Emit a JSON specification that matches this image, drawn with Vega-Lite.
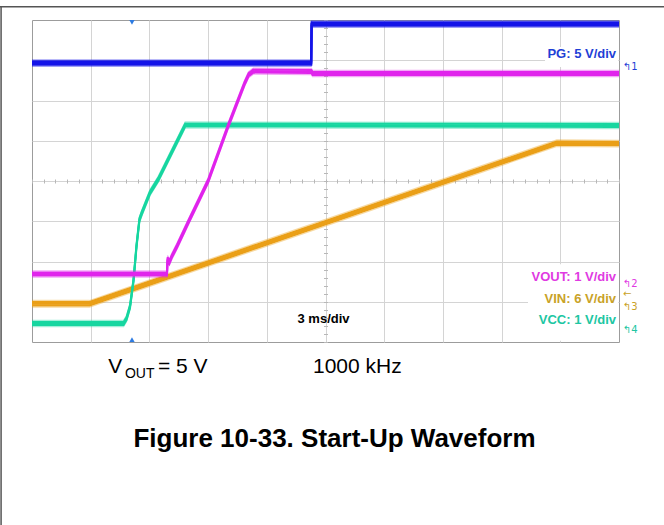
{
  "$schema": "https://vega.github.io/schema/vega-lite/v6.json",
  "width": 587,
  "height": 322,
  "autosize": {"type": "none"},
  "padding": {"left": 32, "top": 20, "right": 45, "bottom": 183},
  "background": "#ffffff",
  "config": {
    "view": {"stroke": "#9c9c9c", "strokeWidth": 1, "fill": "#ffffff"},
    "text": {"font": "Liberation Sans"}
  },
  "data": {"values": [{"one": 1}]},
  "datasets": {
    "pg": [{"t": 0, "v": 6.93}, {"t": 14.27, "v": 6.93}, {"t": 14.29, "v": 7.9}, {"t": 30, "v": 7.9}],
    "vout": [{"t": 0, "v": 1.69}, {"t": 6.9, "v": 1.69}, {"t": 6.93, "v": 2.07}, {"t": 7.02, "v": 1.98}, {"t": 7.14, "v": 2.12}, {"t": 7.41, "v": 2.38}, {"t": 8.01, "v": 3.0}, {"t": 9.0, "v": 4.0}, {"t": 10.05, "v": 5.4}, {"t": 10.86, "v": 6.42}, {"t": 11.07, "v": 6.64}, {"t": 11.31, "v": 6.73}, {"t": 14.28, "v": 6.72}, {"t": 14.34, "v": 6.67}, {"t": 30, "v": 6.67}],
    "vcc": [{"t": 0, "v": 0.46}, {"t": 4.68, "v": 0.46}, {"t": 4.83, "v": 0.58}, {"t": 5.01, "v": 0.88}, {"t": 5.19, "v": 1.54}, {"t": 5.34, "v": 2.38}, {"t": 5.49, "v": 3.04}, {"t": 5.61, "v": 3.2}, {"t": 6.03, "v": 3.71}, {"t": 6.45, "v": 4.04}, {"t": 7.83, "v": 5.39}, {"t": 30, "v": 5.38}],
    "vin": [{"t": 0, "v": 0.95}, {"t": 2.94, "v": 0.95}, {"t": 26.82, "v": 4.94}, {"t": 30, "v": 4.93}],
    "labels": [
      {"t": 29.85, "v": 7.06, "text": "PG: 5 V/div", "ch": "PG"},
      {"t": 29.85, "v": 1.51, "text": "VOUT: 1 V/div", "ch": "VOUT"},
      {"t": 29.85, "v": 0.96, "text": "VIN: 6 V/div", "ch": "VIN"},
      {"t": 29.85, "v": 0.44, "text": "VCC: 1 V/div", "ch": "VCC"}
    ],
    "markers": [
      {"t": 30.2, "v": 6.83, "text": "↰1", "ch": "PG"},
      {"t": 30.2, "v": 1.45, "text": "↰2", "ch": "VOUT"},
      {"t": 30.2, "v": 1.2, "text": "←", "ch": "VIN"},
      {"t": 30.2, "v": 0.86, "text": "↰3", "ch": "VIN"},
      {"t": 30.2, "v": 0.29, "text": "↰4", "ch": "VCC"}
    ],
    "boxes": [
      {"t": 26.22, "t2": 29.96, "v": 6.83, "v2": 7.33},
      {"t": 25.35, "t2": 29.96, "v": 0.03, "v2": 1.93}
    ]
  },
  "resolve": {"axis": {"x": "independent", "y": "independent"}},
  "layer": [
    {
      "data": {"name": "boxes"},
      "mark": {"type": "rect", "fill": "#ffffff", "strokeWidth": 0},
      "encoding": {
        "x": {"field": "t", "type": "quantitative", "scale": {"domain": [0, 30], "nice": false, "zero": false},
          "axis": {"orient": "top", "values": [3, 6, 9, 12, 15, 18, 21, 24, 27], "grid": true, "gridColor": "#d4d4d4", "gridWidth": 1, "ticks": false, "labels": false, "domain": false, "title": null}},
        "x2": {"field": "t2"},
        "y": {"field": "v", "type": "quantitative", "scale": {"domain": [0, 8], "nice": false, "zero": false},
          "axis": {"orient": "left", "values": [1, 2, 3, 4, 5, 6, 7], "grid": true, "gridColor": "#d4d4d4", "gridWidth": 1, "ticks": false, "labels": false, "domain": false, "title": null}},
        "y2": {"field": "v2"}
      }
    },
    {
      "data": {"name": "vin"},
      "encoding": {
        "x": {"field": "t", "type": "quantitative", "scale": {"domain": [0, 30], "nice": false, "zero": false}, "axis": null},
        "y": {"field": "v", "type": "quantitative", "scale": {"domain": [0, 8], "nice": false, "zero": false}, "axis": null}
      },
      "layer": [
        {"mark": {"type": "line", "color": "#ea9f17", "strokeWidth": 1.2, "opacity": 0.4, "yOffset": -3.3}},
        {"mark": {"type": "line", "color": "#ea9f17", "strokeWidth": 2.2, "yOffset": -1.6}},
        {"mark": {"type": "line", "color": "#ea9f17", "strokeWidth": 2.2, "yOffset": 0}},
        {"mark": {"type": "line", "color": "#ea9f17", "strokeWidth": 2.2, "yOffset": 1.6}},
        {"mark": {"type": "line", "color": "#ea9f17", "strokeWidth": 1.2, "opacity": 0.4, "yOffset": 3.3}}
      ]
    },
    {
      "data": {"name": "vcc"},
      "encoding": {
        "x": {"field": "t", "type": "quantitative", "scale": {"domain": [0, 30], "nice": false, "zero": false}, "axis": null},
        "y": {"field": "v", "type": "quantitative", "scale": {"domain": [0, 8], "nice": false, "zero": false}, "axis": null}
      },
      "layer": [
        {"mark": {"type": "line", "color": "#17d6a0", "strokeWidth": 1.2, "opacity": 0.4, "yOffset": -3.1}},
        {"mark": {"type": "line", "color": "#17d6a0", "strokeWidth": 2.0, "yOffset": -1.5}},
        {"mark": {"type": "line", "color": "#17d6a0", "strokeWidth": 2.0, "yOffset": 0}},
        {"mark": {"type": "line", "color": "#17d6a0", "strokeWidth": 2.0, "yOffset": 1.5}},
        {"mark": {"type": "line", "color": "#17d6a0", "strokeWidth": 1.2, "opacity": 0.4, "yOffset": 3.1}}
      ]
    },
    {
      "data": {"name": "vout"},
      "encoding": {
        "x": {"field": "t", "type": "quantitative", "scale": {"domain": [0, 30], "nice": false, "zero": false}, "axis": null},
        "y": {"field": "v", "type": "quantitative", "scale": {"domain": [0, 8], "nice": false, "zero": false}, "axis": null}
      },
      "layer": [
        {"mark": {"type": "line", "color": "#e024ec", "strokeWidth": 1.2, "opacity": 0.4, "yOffset": -3.1}},
        {"mark": {"type": "line", "color": "#e024ec", "strokeWidth": 2.0, "yOffset": -1.5}},
        {"mark": {"type": "line", "color": "#e024ec", "strokeWidth": 2.0, "yOffset": 0}},
        {"mark": {"type": "line", "color": "#e024ec", "strokeWidth": 2.0, "yOffset": 1.5}},
        {"mark": {"type": "line", "color": "#e024ec", "strokeWidth": 1.2, "opacity": 0.4, "yOffset": 3.1}}
      ]
    },
    {
      "data": {"name": "pg"},
      "encoding": {
        "x": {"field": "t", "type": "quantitative", "scale": {"domain": [0, 30], "nice": false, "zero": false}, "axis": null},
        "y": {"field": "v", "type": "quantitative", "scale": {"domain": [0, 8], "nice": false, "zero": false}, "axis": null}
      },
      "layer": [
        {"mark": {"type": "line", "color": "#1414e8", "strokeWidth": 1.2, "opacity": 0.4, "yOffset": -3.3}},
        {"mark": {"type": "line", "color": "#1414e8", "strokeWidth": 2.2, "yOffset": -1.6}},
        {"mark": {"type": "line", "color": "#1414e8", "strokeWidth": 2.2, "yOffset": 0}},
        {"mark": {"type": "line", "color": "#1414e8", "strokeWidth": 2.2, "yOffset": 1.6}},
        {"mark": {"type": "line", "color": "#1414e8", "strokeWidth": 1.2, "opacity": 0.4, "yOffset": 3.3}}
      ]
    },
    {
      "mark": {"type": "point", "shape": "triangle-down", "filled": true, "color": "#2d7be2", "size": 28, "opacity": 1},
      "encoding": {
        "x": {"datum": 5.11, "type": "quantitative", "scale": {"domain": [0, 30], "nice": false, "zero": false}, "axis": null},
        "y": {"datum": 7.94, "type": "quantitative", "scale": {"domain": [0, 8], "nice": false, "zero": false}, "axis": null}
      }
    },
    {
      "mark": {"type": "point", "shape": "triangle-up", "filled": true, "color": "#2d7be2", "size": 28, "opacity": 1},
      "encoding": {
        "x": {"datum": 5.11, "type": "quantitative", "scale": {"domain": [0, 30], "nice": false, "zero": false}, "axis": null},
        "y": {"datum": 0.06, "type": "quantitative", "scale": {"domain": [0, 8], "nice": false, "zero": false}, "axis": null}
      }
    },
    {
      "data": {"name": "labels"},
      "mark": {"type": "text", "align": "right", "baseline": "alphabetic", "fontSize": 13, "fontWeight": "bold", "font": "Liberation Sans"},
      "encoding": {
        "x": {"field": "t", "type": "quantitative", "scale": {"domain": [0, 30], "nice": false, "zero": false},
          "axis": {"orient": "bottom", "offset": -163, "values": [0, 0.6, 1.2, 1.8, 2.4, 3, 3.6, 4.2, 4.8, 5.4, 6, 6.6, 7.2, 7.8, 8.4, 9, 9.6, 10.2, 10.8, 11.4, 12, 12.6, 13.2, 13.8, 14.4, 15, 15.6, 16.2, 16.8, 17.4, 18, 18.6, 19.2, 19.8, 20.4, 21, 21.6, 22.2, 22.8, 23.4, 24, 24.6, 25.2, 25.8, 26.4, 27, 27.6, 28.2, 28.8, 29.4, 30], "labels": false, "domain": false, "grid": false, "ticks": true, "tickSize": 4, "tickColor": "#b8b8b8", "tickWidth": 1, "title": null}},
        "y": {"field": "v", "type": "quantitative", "scale": {"domain": [0, 8], "nice": false, "zero": false},
          "axis": {"orient": "right", "offset": -295.5, "values": [0, 0.2, 0.4, 0.6, 0.8, 1, 1.2, 1.4, 1.6, 1.8, 2, 2.2, 2.4, 2.6, 2.8, 3, 3.2, 3.4, 3.6, 3.8, 4, 4.2, 4.4, 4.6, 4.8, 5, 5.2, 5.4, 5.6, 5.8, 6, 6.2, 6.4, 6.6, 6.8, 7, 7.2, 7.4, 7.6, 7.8, 8], "labels": false, "domain": false, "grid": false, "ticks": true, "tickSize": 4, "tickColor": "#b8b8b8", "tickWidth": 1, "title": null}},
        "text": {"field": "text"},
        "color": {"field": "ch", "type": "nominal", "scale": {"domain": ["PG", "VOUT", "VIN", "VCC"], "range": ["#1f3fd6", "#e03ae2", "#c9a227", "#20c6a2"]}, "legend": null}
      }
    },
    {
      "data": {"name": "markers"},
      "mark": {"type": "text", "align": "left", "baseline": "middle", "fontSize": 10, "font": "DejaVu Sans"},
      "encoding": {
        "x": {"field": "t", "type": "quantitative", "scale": {"domain": [0, 30], "nice": false, "zero": false}, "axis": null},
        "y": {"field": "v", "type": "quantitative", "scale": {"domain": [0, 8], "nice": false, "zero": false}, "axis": null},
        "text": {"field": "text"},
        "color": {"field": "ch", "type": "nominal", "legend": null}
      }
    },
    {
      "mark": {"type": "text", "text": "3 ms/div", "align": "center", "baseline": "alphabetic", "fontSize": 13, "fontWeight": "bold", "color": "#000000"},
      "encoding": {
        "x": {"datum": 14.9, "type": "quantitative", "scale": {"domain": [0, 30], "nice": false, "zero": false}, "axis": null},
        "y": {"datum": 0.465, "type": "quantitative", "scale": {"domain": [0, 8], "nice": false, "zero": false}, "axis": null}
      }
    },
    {
      "mark": {"type": "text", "text": "V", "align": "left", "baseline": "alphabetic", "fontSize": 21, "color": "#000000"},
      "encoding": {
        "x": {"datum": 3.9, "type": "quantitative", "scale": {"domain": [0, 30], "nice": false, "zero": false}, "axis": null},
        "y": {"datum": -0.77, "type": "quantitative", "scale": {"domain": [0, 8], "nice": false, "zero": false}, "axis": null}
      }
    },
    {
      "mark": {"type": "text", "text": "OUT", "align": "left", "baseline": "alphabetic", "fontSize": 14, "color": "#000000"},
      "encoding": {
        "x": {"datum": 4.75, "type": "quantitative", "scale": {"domain": [0, 30], "nice": false, "zero": false}, "axis": null},
        "y": {"datum": -0.9, "type": "quantitative", "scale": {"domain": [0, 8], "nice": false, "zero": false}, "axis": null}
      }
    },
    {
      "mark": {"type": "text", "text": "= 5 V", "align": "left", "baseline": "alphabetic", "fontSize": 21, "color": "#000000"},
      "encoding": {
        "x": {"datum": 6.44, "type": "quantitative", "scale": {"domain": [0, 30], "nice": false, "zero": false}, "axis": null},
        "y": {"datum": -0.77, "type": "quantitative", "scale": {"domain": [0, 8], "nice": false, "zero": false}, "axis": null}
      }
    },
    {
      "mark": {"type": "text", "text": "1000 kHz", "align": "left", "baseline": "alphabetic", "fontSize": 21, "color": "#000000"},
      "encoding": {
        "x": {"datum": 14.36, "type": "quantitative", "scale": {"domain": [0, 30], "nice": false, "zero": false}, "axis": null},
        "y": {"datum": -0.77, "type": "quantitative", "scale": {"domain": [0, 8], "nice": false, "zero": false}, "axis": null}
      }
    },
    {
      "mark": {"type": "text", "text": "Figure 10-33. Start-Up Waveform", "align": "center", "baseline": "alphabetic", "fontSize": 26, "fontWeight": "bold", "color": "#000000"},
      "encoding": {
        "x": {"datum": 15.46, "type": "quantitative", "scale": {"domain": [0, 30], "nice": false, "zero": false}, "axis": null},
        "y": {"datum": -2.61, "type": "quantitative", "scale": {"domain": [0, 8], "nice": false, "zero": false}, "axis": null}
      }
    },
    {
      "mark": {"type": "rule", "color": "#555555", "strokeWidth": 1.5},
      "encoding": {
        "x": {"datum": -1.7, "type": "quantitative", "scale": {"domain": [0, 30], "nice": false, "zero": false}, "axis": null},
        "x2": {"datum": 32.6},
        "y": {"datum": 8.33, "type": "quantitative", "scale": {"domain": [0, 8], "nice": false, "zero": false}, "axis": null}
      }
    },
    {
      "mark": {"type": "rule", "color": "#555555", "strokeWidth": 1.5},
      "encoding": {
        "x": {"datum": -1.58, "type": "quantitative", "scale": {"domain": [0, 30], "nice": false, "zero": false}, "axis": null},
        "y": {"datum": 8.33, "type": "quantitative", "scale": {"domain": [0, 8], "nice": false, "zero": false}, "axis": null},
        "y2": {"datum": -4.6}
      }
    }
  ]
}
